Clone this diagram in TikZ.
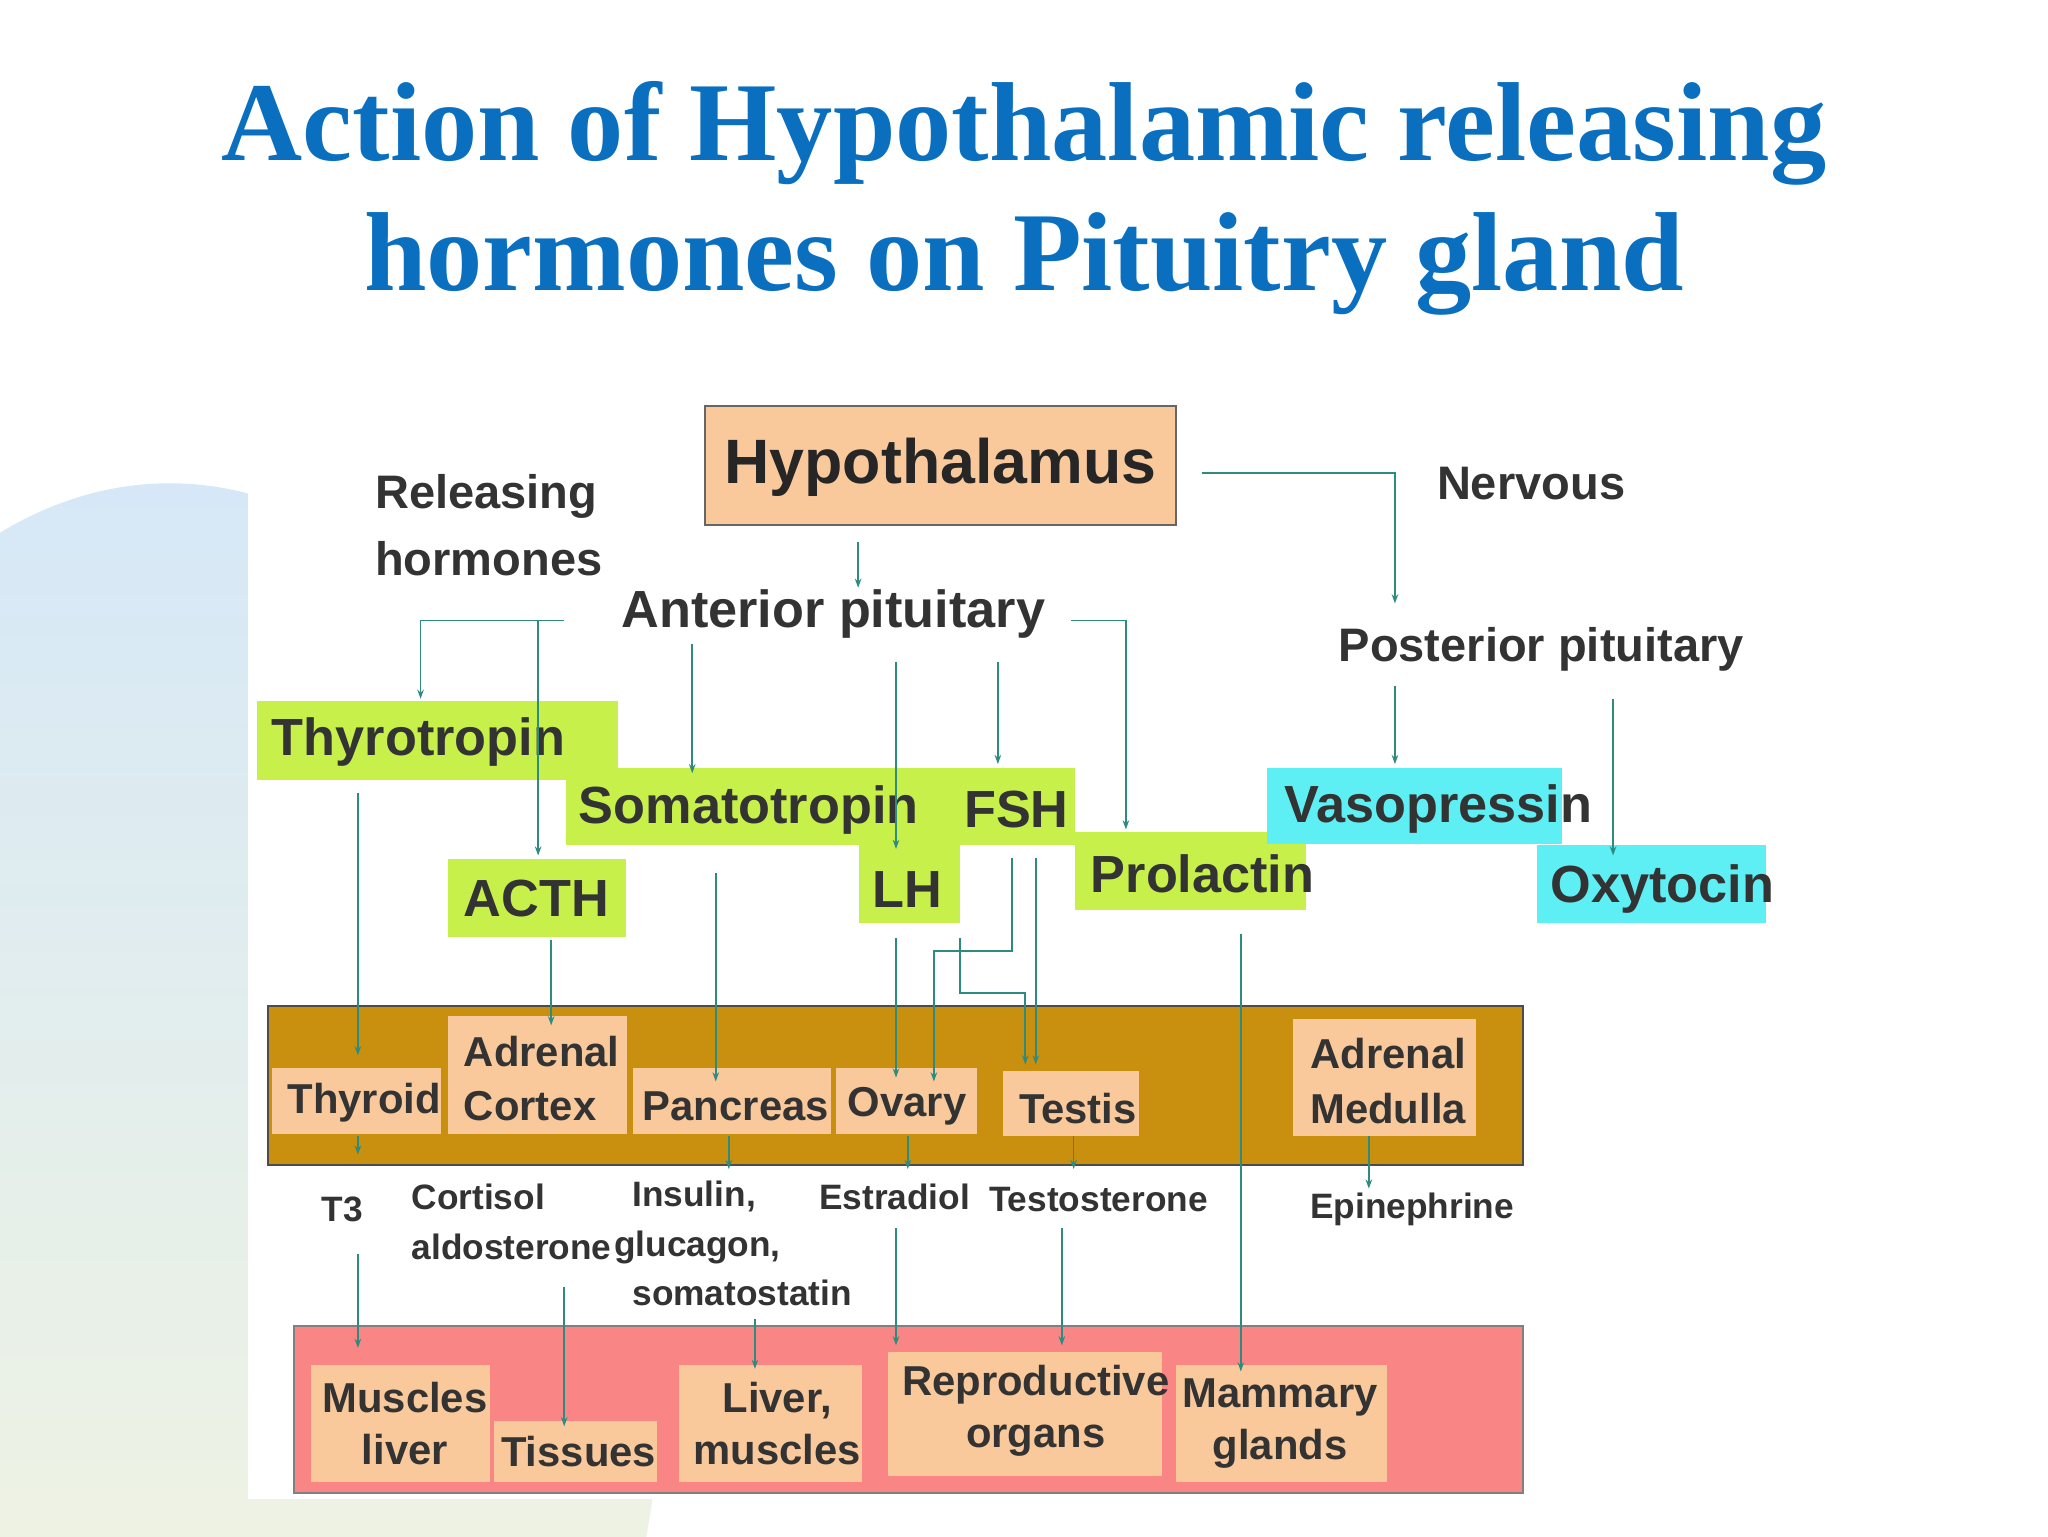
\documentclass[tikz,border=0pt]{standalone}
\usepackage{fontspec}
\setmainfont{Liberation Serif}
\setsansfont{Liberation Sans}
\usetikzlibrary{arrows.meta}
\definecolor{ttl}{HTML}{0B6FC0}
\definecolor{peach}{HTML}{F9C89B}
\definecolor{lgreen}{HTML}{C8F04A}
\definecolor{cyanb}{HTML}{5EEFF5}
\definecolor{gold}{HTML}{C8900E}
\definecolor{pinkb}{HTML}{F98585}
\definecolor{teal}{HTML}{2E8B80}
\definecolor{bgblue}{HTML}{D6E8F7}
\definecolor{bgyel}{HTML}{FBF8D8}
\begin{document}
\begin{tikzpicture}[x=1pt,y=-1pt,
 lbl/.style={font=\sffamily\bfseries\fontsize{32}{40}\selectfont,inner sep=0,text=black!80},
 mid/.style={font=\sffamily\bfseries\fontsize{36}{48}\selectfont,inner sep=0,text=black!80},
 big/.style={font=\sffamily\bfseries\fontsize{40}{46}\selectfont,inner sep=0,text=black!80},
 sm/.style={font=\sffamily\bfseries\fontsize{27}{38}\selectfont,inner sep=0,text=black!80},
 arr/.style={draw=teal,line width=1.3pt,-{Stealth[length=7pt,width=5pt]}},
 ln/.style={draw=teal,line width=1.3pt}]
\useasboundingbox (0,0) rectangle (1568,1176);
\shade[top color=bgblue, bottom color=bgyel] (130,1000) ellipse [x radius=380,y radius=630];
\fill[white] (190,290) rectangle (1390,1148);
\node[font=\bfseries\fontsize{86}{100}\selectfont,text=ttl,align=center] (title) at (784,152) {Action of Hypothalamic releasing\\hormones on Pituitry gland};
% boxes
\draw[fill=peach,draw=black!60,line width=1.5pt] (540,311) rectangle (900,402);
\node[font=\sffamily\bfseries\fontsize{48}{54}\selectfont,inner sep=0,text=black!85] (hyp) at (720,358) {Hypothalamus};
\node[mid,anchor=west] (rel) at (287,380) {Releasing};
\node[mid,anchor=west] (hor) at (287,428) {hormones};
\node[mid,anchor=west] (nerv) at (1100,370) {Nervous};
\node[big] (ant) at (638,470) {Anterior pituitary};
\node[mid] (post) at (1180,497) {Posterior pituitary};
\fill[lgreen] (197,537) rectangle (473,597);
\fill[lgreen] (433,588) rectangle (823,647);
\fill[lgreen] (658,640) rectangle (735,707);
\fill[lgreen] (343,658) rectangle (479,717);
\fill[lgreen] (823,637) rectangle (1000,697);
\fill[cyanb] (970,588) rectangle (1196,646);
\fill[cyanb] (1177,647) rectangle (1352,707);
\node[big,anchor=west] (thy) at (208,568) {Thyrotropin};
\node[big,anchor=west] (som) at (443,620) {Somatotropin};
\node[big,anchor=west] (fsh) at (738,620) {FSH};
\node[big,anchor=west] (lh) at (668,681) {LH};
\node[big,anchor=west] (acth) at (355,688) {ACTH};
\node[big,anchor=west] (prl) at (835,669) {Prolactin};
\node[big,anchor=west] (vas) at (983,619) {Vasopressin};
\node[big,anchor=west] (oxy) at (1187,681) {Oxytocin};
% gold band
\draw[fill=gold,draw=black!70,line width=1.5pt] (205,770) rectangle (1166,892);
\fill[peach] (208,818) rectangle (338,868);
\fill[peach] (343,778) rectangle (480,868);
\fill[peach] (485,818) rectangle (636,868);
\fill[peach] (640,818) rectangle (748,868);
\fill[peach] (768,820) rectangle (872,870);
\fill[peach] (990,780) rectangle (1130,870);
\node[lbl,anchor=west] (tyd) at (220,844) {Thyroid};
\node[lbl,anchor=west] (adr) at (355,805) {Adrenal};
\node[lbl,anchor=west] (ctx) at (355,847) {Cortex};
\node[lbl,anchor=west] (pan) at (492,847) {Pancreas};
\node[lbl,anchor=west] (ova) at (649,847) {Ovary};
\node[lbl,anchor=west] (tes) at (780,849) {Testis};
\node[lbl,anchor=west] (adm) at (1003,807) {Adrenal};
\node[lbl,anchor=west] (med) at (1003,849) {Medulla};
% products
\node[sm,anchor=west] (t3) at (246,926) {T3};
\node[sm,anchor=west] (cor) at (315,916) {Cortisol};
\node[sm,anchor=west] (ald) at (315,955) {aldosterone};
\node[sm,anchor=west] (ins) at (484,916) {Insulin,};
\node[sm,anchor=west] (glu) at (470,955) {glucagon,};
\node[sm,anchor=west] (sst) at (484,990) {somatostatin};
\node[sm,anchor=west] (est) at (627,916) {Estradiol};
\node[sm,anchor=west] (tst) at (757,918) {Testosterone};
\node[sm,anchor=west] (epi) at (1003,926) {Epinephrine};
% pink band
\draw[fill=pinkb,draw=black!50,line width=1.5pt] (225,1015) rectangle (1166,1143);
\fill[peach] (238,1045) rectangle (375,1135);
\fill[peach] (378,1088) rectangle (503,1135);
\fill[peach] (520,1045) rectangle (660,1135);
\fill[peach] (680,1035) rectangle (890,1130);
\fill[peach] (900,1045) rectangle (1062,1135);
\node[lbl,align=center] (mus) at (310,1090) {Muscles\\liver};
\node[lbl] (tis) at (443,1111) {Tissues};
\node[lbl,align=center] (liv) at (595,1090) {Liver,\\muscles};
\node[lbl,align=center] (rep) at (793,1080) {Reproductive\\organs};
\node[lbl,align=center] (mam) at (980,1090) {Mammary\\glands};
% connectors
\draw[arr] (920,362) -- (1068,362) -- (1068,462);
\draw[arr] (657,415) -- (657,450);
\draw[ln] (432,475) -- (322,475);
\draw[arr] (322,475) -- (322,535);
\draw[arr] (412,475) -- (412,655);
\draw[arr] (530,493) -- (530,592);
\draw[arr] (820,475) -- (862,475) -- (862,635);
\draw[arr] (686,507) -- (686,650);
\draw[arr] (764,507) -- (764,585);
\draw[arr] (1068,525) -- (1068,585);
\draw[arr] (1235,535) -- (1235,655);
\draw[arr] (274,607) -- (274,808);
\draw[arr] (422,720) -- (422,785);
\draw[arr] (548,668) -- (548,828);
\draw[arr] (686,718) -- (686,825);
\draw[arr] (775,657) -- (775,728) -- (715,728) -- (715,828);
\draw[arr] (735,718) -- (735,760) -- (785,760) -- (785,815);
\draw[arr] (793,657) -- (793,815);
\draw[arr] (950,715) -- (950,1050);
\draw[arr] (274,870) -- (274,884);
\draw[arr] (274,960) -- (274,1032);
\draw[arr] (432,985) -- (432,1092);
\draw[arr] (558,870) -- (558,895);
\draw[arr] (578,1010) -- (578,1048);
\draw[arr] (695,870) -- (695,895);
\draw[arr] (686,940) -- (686,1030);
\draw[arr] (822,870) -- (822,895);
\draw[arr] (813,940) -- (813,1030);
\draw[arr] (1048,870) -- (1048,910);
\end{tikzpicture}
\end{document}
